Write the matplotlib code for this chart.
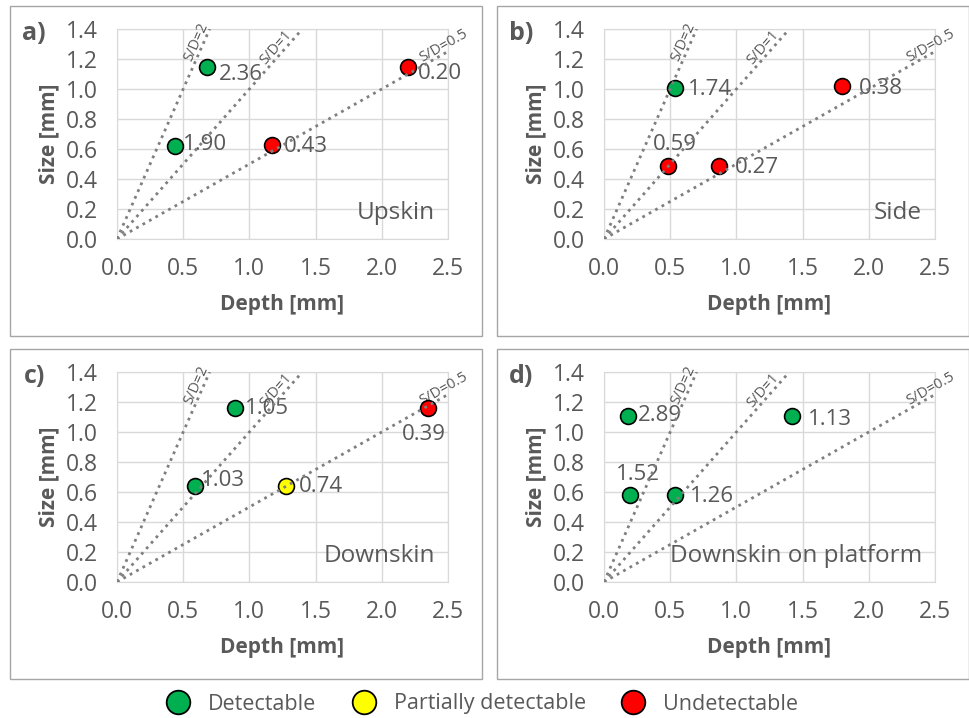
import numpy as np
import matplotlib.pyplot as plt
from matplotlib.patches import Rectangle
from matplotlib.lines import Line2D

plt.rcParams['font.family'] = ['Open Sans', 'DejaVu Sans']

TXT = '#595959'
GRID = '#d9d9d9'
colors = {'Detectable': '#00b050', 'Partially detectable': '#ffff00', 'Undetectable': '#ff0000'}

# data
tags = ['a)', 'b)', 'c)', 'd)']
names = ['Upskin', 'Side', 'Downskin', 'Downskin on platform']

depth_a = [0.68, 0.44, 1.17, 2.20]
size_a = [1.15, 0.62, 0.63, 1.15]
lab_a = ['2.36', '1.90', '0.43', '0.20']
state_a = ['Detectable', 'Detectable', 'Undetectable', 'Undetectable']

depth_b = [0.54, 0.48, 0.87, 1.80]
size_b = [1.01, 0.49, 0.49, 1.02]
lab_b = ['1.74', '0.59', '0.27', '0.38']
state_b = ['Detectable', 'Undetectable', 'Undetectable', 'Undetectable']

depth_c = [0.89, 0.59, 1.28, 2.35]
size_c = [1.16, 0.64, 0.64, 1.16]
lab_c = ['1.05', '1.03', '0.74', '0.39']
state_c = ['Detectable', 'Detectable', 'Partially detectable', 'Undetectable']

depth_d = [0.18, 0.20, 0.54, 1.42]
size_d = [1.11, 0.58, 0.58, 1.11]
lab_d = ['2.89', '1.52', '1.26', '1.13']
state_d = ['Detectable', 'Detectable', 'Detectable', 'Detectable']

# label offsets in pixels (dx, dy, ha)
off_a = [(12, -8, 'left'), (8, 2, 'left'), (12, -2, 'left'), (10, -7, 'left')]
off_b = [(12, -2, 'left'), (7, 21, 'center'), (16, -2, 'left'), (17, -3, 'left')]
off_c = [(10, -1, 'left'), (6, 6, 'left'), (12, -1, 'left'), (-4, -26, 'center')]
off_d = [(10, 0, 'left'), (7, 20, 'center'), (14, -1, 'left'), (16, -4, 'left')]

ratios = [2, 1, 0.5]
ratio_end = [0.7, 1.38, 2.5]
ratio_txt = ['S/D=2', 'S/D=1', 'S/D=0.5']
ratio_txt_x = [0.585, 1.14, 2.32]

panels = [(depth_a, size_a, lab_a, state_a, off_a),
          (depth_b, size_b, lab_b, state_b, off_b),
          (depth_c, size_c, lab_c, state_c, off_c),
          (depth_d, size_d, lab_d, state_d, off_d)]

W, H = 969, 718
fig = plt.figure(figsize=(W / 100, H / 100), dpi=100)

ax_left = [117, 604, 117, 604]
ax_top = [29, 29, 372, 372]
box_x = [10, 497, 10, 497]
box_y = [6, 6, 349, 349]
box_w, box_h = 472, 330

for i, (dep, siz, labs, states, offs) in enumerate(panels):
    fig.add_artist(Rectangle((box_x[i] / W, 1 - (box_y[i] + box_h) / H), box_w / W, box_h / H,
                             transform=fig.transFigure, fill=False, edgecolor='#a6a6a6', lw=1))
    ax = fig.add_axes([ax_left[i] / W, 1 - (ax_top[i] + 210) / H, 331 / W, 210 / H])
    ax.set_xlim(0, 2.5)
    ax.set_ylim(0, 1.4)
    ax.set_xticks(np.arange(0, 2.51, 0.5))
    ax.set_yticks(np.arange(0, 1.41, 0.2))
    ax.xaxis.set_major_formatter(plt.FormatStrFormatter('%.1f'))
    ax.yaxis.set_major_formatter(plt.FormatStrFormatter('%.1f'))
    ax.grid(color=GRID, lw=1)
    ax.set_axisbelow(True)
    for s in ax.spines.values():
        s.set_color(GRID)
    ax.tick_params(length=0, labelsize=16.5, labelcolor=TXT)
    ax.tick_params(axis='x', pad=13)
    ax.tick_params(axis='y', pad=14)
    ax.set_xlabel('Depth [mm]', fontsize=15, fontweight='bold', color=TXT, labelpad=9)
    ax.set_ylabel('Size [mm]', fontsize=15, fontweight='bold', color=TXT, labelpad=4)

    for r, xe, t, xt in zip(ratios, ratio_end, ratio_txt, ratio_txt_x):
        xs = np.array([0, xe])
        ax.plot(xs, r * xs, ls=':', color='#7f7f7f', lw=2, zorder=4)
        ax.text(xt, r * xt, t, fontsize=10.5, color=TXT, rotation=np.degrees(np.arctan(r)),
                transform_rotates_text=True, rotation_mode='anchor',
                ha='left', va='bottom', clip_on=False)

    for x, y, lab, st, (dx, dy, ha) in zip(dep, siz, labs, states, offs):
        ax.scatter(x, y, s=130, color=colors[st], edgecolor='black', lw=1.2, zorder=3, clip_on=False)
        ax.annotate(lab, (x, y), xytext=(dx * 0.72, dy * 0.72), textcoords='offset points',
                    ha=ha, va='center', fontsize=16, color=TXT, zorder=3)

    ax.text(0.96, 0.125, names[i], transform=ax.transAxes, ha='right', va='center',
            fontsize=17.5, color=TXT)
    ax.text(-0.25, 0.98, tags[i], transform=ax.transAxes, ha='center', va='center',
            fontsize=18, fontweight='bold', color=TXT)

handles = [Line2D([], [], ls='', marker='o', markersize=17, markerfacecolor=c,
                  markeredgecolor='black', markeredgewidth=1.3) for c in colors.values()]
leg = fig.legend(handles, list(colors.keys()), loc='center', bbox_to_anchor=(0.497, 1 - 704 / H),
                 ncol=3, frameon=False, fontsize=15.5, handletextpad=0.8, columnspacing=1.6,
                 handlelength=1.2)
for t in leg.get_texts():
    t.set_color(TXT)

fig.savefig('out.png', dpi=100)
